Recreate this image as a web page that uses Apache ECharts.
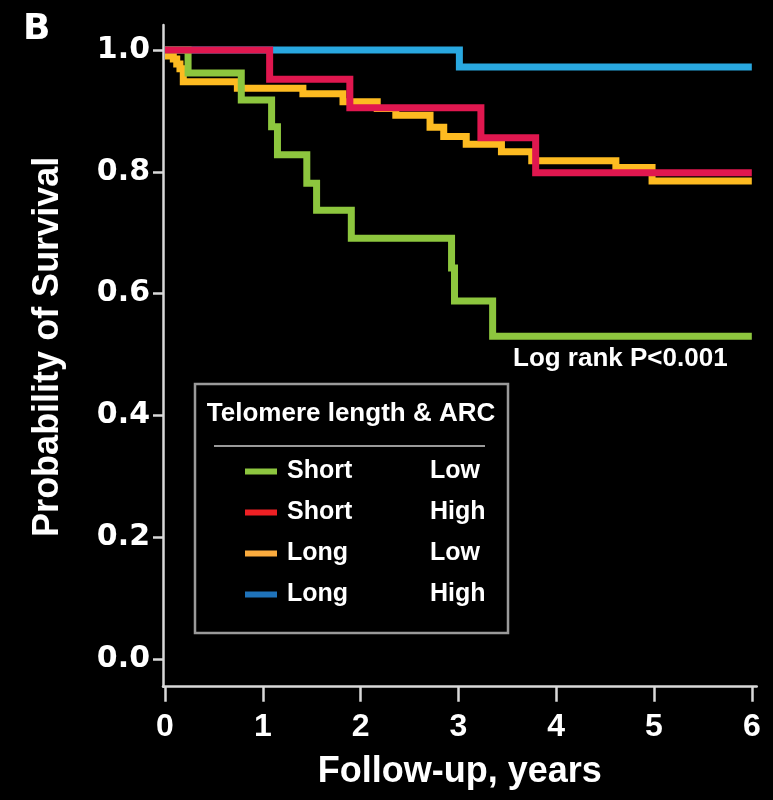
<!DOCTYPE html>
<html>
<head>
<meta charset="utf-8">
<script src="https://cdn.jsdelivr.net/npm/echarts@6/dist/echarts.min.js"></script>
<style>
html,body{margin:0;padding:0;background:#000;}
#chart{width:773px;height:800px;}
</style>
</head>
<body>
<div id="chart"></div>
<script>
// ---- data ----
const xTicks = [0, 1, 2, 3, 4, 5, 6];
const yTicks = [0, 0.2, 0.4, 0.6, 0.8, 1.0];

const seriesNames = ['Short Low', 'Short High', 'Long Low', 'Long High'];
const groupLength = ['Short', 'Short', 'Long', 'Long'];
const groupARC = ['Low', 'High', 'Low', 'High'];

const shortLowTimes = [0, 0.236, 0.78, 1.09, 1.15, 1.45, 1.55, 1.905, 2.93, 2.96, 3.35, 6];
const shortLowSurv  = [1, 0.962, 0.918, 0.874, 0.828, 0.781, 0.737, 0.691, 0.642, 0.588, 0.530, 0.530];

const shortHighTimes = [0, 1.07, 1.89, 3.23, 3.79, 6];
const shortHighSurv  = [1, 0.952, 0.905, 0.856, 0.7985, 0.7985];

const longLowTimes = [0, 0.085, 0.12, 0.153, 0.187, 0.74, 1.41, 1.82, 2.17, 2.36, 2.71, 2.85, 3.08, 3.44, 3.75, 4.61, 4.98, 6];
const longLowSurv  = [0.99, 0.985, 0.977, 0.969, 0.948, 0.937, 0.928, 0.915, 0.904, 0.893, 0.873, 0.858, 0.845, 0.833, 0.818, 0.807, 0.785, 0.785];

const longHighTimes = [0, 3.01, 6];
const longHighSurv  = [1, 0.972, 0.972];

const lineColors = ['#8DC63E', '#E0174F', '#FDBB21', '#29A8E0'];
const legendColors = ['#8DC63F', '#EE2024', '#FAAB3E', '#1F73BA'];

function pairs(t, s) { return t.map((v, i) => [v, s[i]]); }
const curves = [
  pairs(shortLowTimes, shortLowSurv),
  pairs(shortHighTimes, shortHighSurv),
  pairs(longLowTimes, longLowSurv),
  pairs(longHighTimes, longHighSurv)
];

const FONT = '"Liberation Sans", Arial, Helvetica, sans-serif';
const WIDE = '"DejaVu Sans", Verdana, sans-serif';
const chart = echarts.init(document.getElementById('chart'), null, {renderer: 'canvas'});

// draw order (bottom -> top): Long High, Long Low, Short Low, Short High
const drawOrder = [3, 2, 0, 1];
const series = drawOrder.map(i => ({
  name: seriesNames[i],
  type: 'line',
  step: 'end',
  data: curves[i],
  showSymbol: false,
  symbol: 'none',
  color: lineColors[i],
  lineStyle: {width: 7, color: lineColors[i], cap: 'butt', join: 'miter'},
  z: 2 + drawOrder.indexOf(i),
  silent: true
}));

const option = {
  backgroundColor: '#000',
  animation: false,
  grid: {left: 163, right: 16.3, top: 25, bottom: 113.3, containLabel: false},
  xAxis: {
    type: 'value',
    min: -0.0204,
    max: 6.05,
    name: 'Follow-up, years',
    nameLocation: 'middle',
    nameGap: 67,
    nameTextStyle: {color: '#fff', fontSize: 36, fontWeight: 'bold', fontFamily: FONT},
    axisLine: {show: true, onZero: false, lineStyle: {color: '#d9d9d9', width: 2.5}},
    axisTick: {show: true, inside: false, length: 15, customValues: xTicks, lineStyle: {color: '#d9d9d9', width: 2.5}},
    axisLabel: {show: true, customValues: xTicks, margin: 24, color: '#fff', fontSize: 32, fontWeight: 'bold', fontFamily: FONT},
    splitLine: {show: false}
  },
  yAxis: {
    type: 'value',
    min: -0.0455,
    max: 1.041,
    name: 'Probability of Survival',
    nameLocation: 'middle',
    nameGap: 97,
    nameRotate: 90,
    nameTextStyle: {color: '#fff', fontSize: 36, fontWeight: 'bold', fontFamily: FONT, padding: [0, 0, 0, 18]},
    axisLine: {show: true, onZero: false, lineStyle: {color: '#d9d9d9', width: 2.5}},
    axisTick: {show: true, inside: false, length: 10, customValues: yTicks, lineStyle: {color: '#d9d9d9', width: 2.5}},
    axisLabel: {show: true, customValues: yTicks, margin: 13, color: '#fff', fontSize: 30, fontWeight: 'bold', fontFamily: WIDE,
      formatter: v => v.toFixed(1)},
    splitLine: {show: false}
  },
  legend: {
    orient: 'vertical',
    left: 245,
    top: 459,
    padding: 0,
    itemWidth: 32,
    itemHeight: 6,
    itemGap: 16,
    icon: 'rect',
    selectedMode: false,
    data: [0, 1, 2, 3].map(i => ({name: seriesNames[i], itemStyle: {color: legendColors[i]}})),
    formatter: name => {
      const i = seriesNames.indexOf(name);
      return '{a|' + groupLength[i] + '}{b|' + groupARC[i] + '}';
    },
    textStyle: {
      color: '#fff', fontSize: 25, fontWeight: 'bold', fontFamily: FONT,
      rich: {
        a: {color: '#fff', fontSize: 25, fontWeight: 'bold', fontFamily: FONT, width: 143, padding: [0, 0, 0, 5], lineHeight: 25},
        b: {color: '#fff', fontSize: 25, fontWeight: 'bold', fontFamily: FONT, lineHeight: 25}
      }
    }
  },
  graphic: [
    {type: 'text', left: 23, top: 12, style: {text: 'B', fill: '#fff', font: 'bold 36px ' + WIDE}},
    {type: 'rect', shape: {x: 195, y: 384, width: 313, height: 249}, style: {fill: 'none', stroke: '#9a9a9a', lineWidth: 2.5}, z: 10},
    {type: 'text', x: 351, y: 414, style: {text: 'Telomere length & ARC', fill: '#fff', font: 'bold 26px ' + FONT, textAlign: 'center', textVerticalAlign: 'middle'}, z: 10},
    {type: 'line', shape: {x1: 214, y1: 446, x2: 485, y2: 446}, style: {stroke: '#9a9a9a', lineWidth: 2}, z: 10},
    {type: 'text', x: 513, y: 359, style: {text: 'Log rank P<0.001', fill: '#fff', font: 'bold 26px ' + FONT, textAlign: 'left', textVerticalAlign: 'middle'}, z: 10}
  ],
  series: series
};
chart.setOption(option);
</script>
</body>
</html>
